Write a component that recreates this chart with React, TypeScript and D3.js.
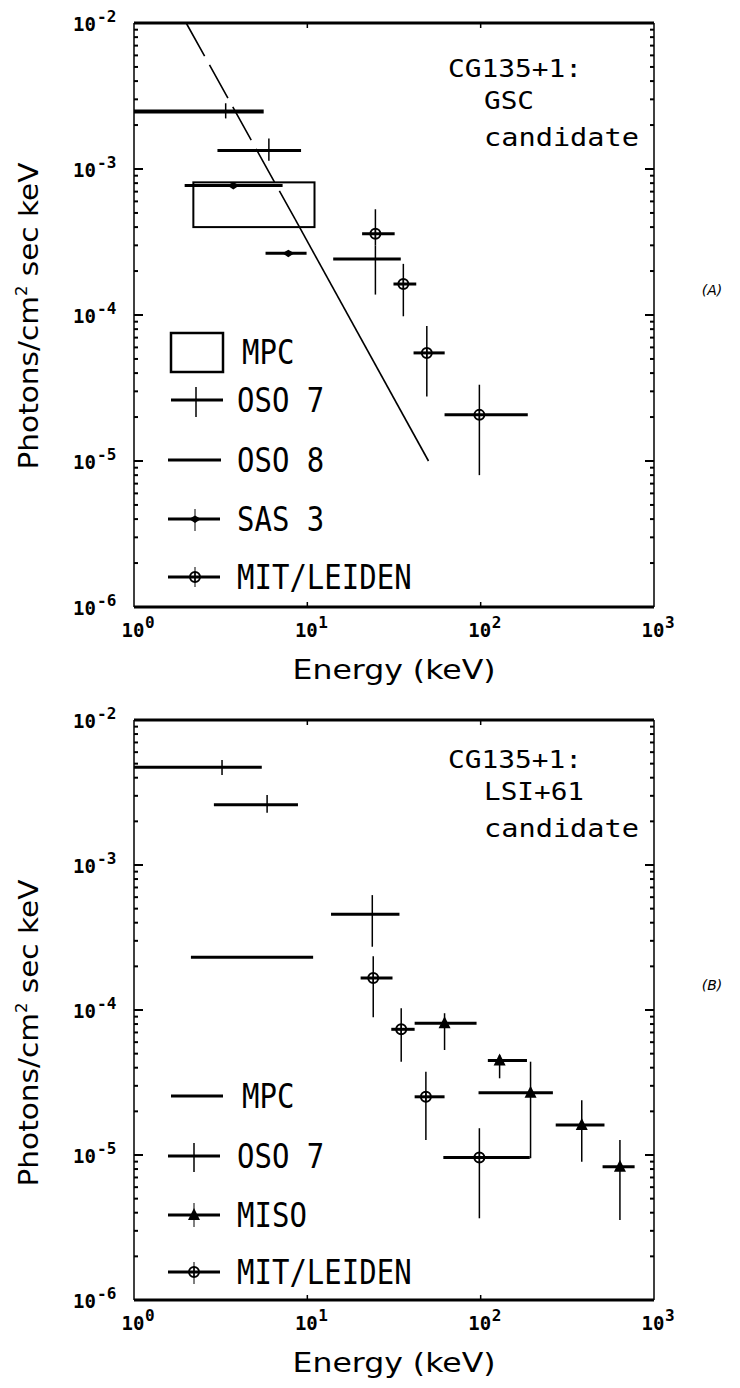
import React from "react";
import * as d3 from "d3";

// ---------- axes ----------
const X_DOMAIN: [number, number] = [1, 1000];
const Y_DOMAIN: [number, number] = [1e-6, 1e-2];
const X_TICKS = [1, 10, 100, 1000];
const X_TICK_EXP = ["0", "1", "2", "3"];
const Y_TICKS = [1e-2, 1e-3, 1e-4, 1e-5, 1e-6];
const Y_TICK_EXP = ["-2", "-3", "-4", "-5", "-6"];

// ---------- panel A (GSC candidate) ----------
// error bars: [eLo, eHi, eMid, flux, fluxLo, fluxHi]
const A_OSO8 = [[1.0, 5.6, 3.38, 2.48e-3, 2.22e-3, 2.82e-3]];
const A_OSO7 = [
  [3.03, 9.2, 6.0, 1.34e-3, 1.14e-3, 1.62e-3],
  [14.1, 34.6, 24.7, 2.42e-4, 1.38e-4, 3.0e-4],
];
const A_SAS3 = [
  [1.96, 7.2, 3.74, 7.7e-4, 7.7e-4, 7.7e-4],
  [5.74, 9.9, 7.77, 2.65e-4, 2.65e-4, 2.65e-4],
];
const A_MIT = [
  [20.7, 31.9, 24.7, 3.6e-4, 3.0e-4, 5.3e-4],
  [31.4, 42.5, 35.8, 1.63e-4, 9.8e-5, 2.24e-4],
  [41, 62, 48.9, 5.5e-5, 2.77e-5, 8.4e-5],
  [61.9, 187, 98.3, 2.07e-5, 8.0e-6, 3.33e-5],
];
// MPC box: [eLo, eHi, fluxLo, fluxHi]
const A_MPC_BOX = [2.2, 11, 4.0e-4, 8.1e-4];
// power-law model: dashed part then solid part, [energy, flux]
const A_POWER_DASHED = [[2, 1e-2], [8.5, 4.53e-4]];
const A_POWER_SOLID = [[8.5, 4.53e-4], [50, 1e-5]];
const A_TITLE = ["CG135+1:", "GSC", "candidate"];
const A_LEGEND = ["MPC", "OSO 7", "OSO 8", "SAS 3", "MIT/LEIDEN"];

// ---------- panel B (LSI+61 candidate) ----------
const B_MPC = [[2.13, 10.8, 5.0, 2.31e-4, 2.31e-4, 2.31e-4]];
const B_OSO7 = [
  [1.0, 5.46, 3.22, 4.72e-3, 4.18e-3, 5.3e-3],
  [2.89, 8.83, 5.86, 2.6e-3, 2.29e-3, 3.04e-3],
  [13.7, 34.0, 23.7, 4.57e-4, 2.73e-4, 6.2e-4],
];
const B_MISO = [
  [41.6, 94.7, 61.9, 8.1e-5, 5.3e-5, 9.5e-5],
  [110, 185, 128.6, 4.48e-5, 3.38e-5, 4.9e-5],
  [97.2, 261, 194, 2.69e-5, 9.5e-6, 4.4e-5],
  [271, 518, 383, 1.61e-5, 9.0e-6, 2.39e-5],
  [505, 773, 636, 8.3e-6, 3.56e-6, 1.27e-5],
];
const B_MIT = [
  [20.3, 31, 24, 1.66e-4, 8.9e-5, 2.35e-4],
  [30.5, 41.6, 34.8, 7.36e-5, 4.4e-5, 1.03e-4],
  [41.6, 61.9, 48.3, 2.52e-5, 1.27e-5, 3.75e-5],
  [60.9, 192, 98.3, 9.6e-6, 3.66e-6, 1.53e-5],
];
const B_TITLE = ["CG135+1:", "LSI+61", "candidate"];
const B_LEGEND = ["MPC", "OSO 7", "MISO", "MIT/LEIDEN"];

const Y_TITLE = "Photons/cm";
const Y_TITLE_REST = " sec keV";
const X_TITLE = "Energy  (keV)";

const MONO = "'DejaVu Sans Mono', 'Liberation Mono', monospace";
const SANS = "'DejaVu Sans', 'Liberation Sans', sans-serif";

type Scale = d3.ScaleLogarithmic<number, number>;

function Marker({ kind, cx, cy }: { kind: string; cx: number; cy: number }) {
  if (kind === "diamond")
    return <path d={`M${cx - 6},${cy} L${cx},${cy - 3.5} L${cx + 6},${cy} L${cx},${cy + 4} Z`} fill="#000" />;
  if (kind === "circle")
    return (
      <g>
        <circle cx={cx} cy={cy} r={5} fill="none" stroke="#000" strokeWidth={2} />
        <line x1={cx} x2={cx} y1={cy - 5} y2={cy + 5} stroke="#000" strokeWidth={1.5} />
      </g>
    );
  if (kind === "triangle")
    return <path d={`M${cx - 6},${cy + 5} L${cx + 6},${cy + 5} L${cx},${cy - 7} Z`} fill="#000" />;
  return null;
}

function Bars({ data, x, y, marker, hw = 3 }: { data: number[][]; x: Scale; y: Scale; marker?: string; hw?: number }) {
  return (
    <g>
      {data.map((d, i) => {
        const [lo, hi, mid, f, flo, fhi] = d;
        return (
          <g key={i}>
            <line x1={x(lo)} x2={x(hi)} y1={y(f)} y2={y(f)} stroke="#000" strokeWidth={hw} />
            {flo !== fhi && (
              <line x1={x(mid)} x2={x(mid)} y1={y(flo)} y2={y(fhi)} stroke="#000" strokeWidth={1.5} />
            )}
            {marker && <Marker kind={marker} cx={x(mid)} cy={y(f)} />}
          </g>
        );
      })}
    </g>
  );
}

function Frame({ x, y, left, right, top, bottom, label, labelY }: any) {
  const minor: number[] = [];
  for (let e = -6; e < -2; e++) for (let m = 2; m <= 9; m++) minor.push(m * Math.pow(10, e));
  return (
    <g>
      {/* frame */}
      <line x1={left} x2={right} y1={top} y2={top} stroke="#000" strokeWidth={3} />
      <line x1={left} x2={right} y1={bottom} y2={bottom} stroke="#000" strokeWidth={3} />
      <line x1={left} x2={left} y1={top} y2={bottom} stroke="#000" strokeWidth={1.5} />
      <line x1={right} x2={right} y1={top} y2={bottom} stroke="#000" strokeWidth={1.5} />
      {minor.map((v, i) => (
        <g key={i}>
          <line x1={left} x2={left + 4} y1={y(v)} y2={y(v)} stroke="#000" strokeWidth={2} />
          <line x1={right} x2={right - 4} y1={y(v)} y2={y(v)} stroke="#000" strokeWidth={2} />
        </g>
      ))}
      {Y_TICKS.map((v, i) => (
        <g key={i}>
          <line x1={left} x2={left + 9} y1={y(v)} y2={y(v)} stroke="#000" strokeWidth={2} />
          <line x1={right} x2={right - 9} y1={y(v)} y2={y(v)} stroke="#000" strokeWidth={2} />
          <text x={96} y={y(v) + 8} fontFamily={MONO} fontWeight="bold" fontSize={19} textAnchor="end">
            10
          </text>
          <text x={97} y={y(v) - 1} fontFamily={MONO} fontWeight="bold" fontSize={16}>
            {Y_TICK_EXP[i]}
          </text>
        </g>
      ))}
      {X_TICKS.map((v, i) => (
        <g key={i}>
          {i > 0 && i < 3 && (
            <>
              <line x1={x(v)} x2={x(v)} y1={top} y2={top + 5} stroke="#000" strokeWidth={1.5} />
              <line x1={x(v)} x2={x(v)} y1={bottom} y2={bottom - 5} stroke="#000" strokeWidth={1.5} />
            </>
          )}
          <text x={x(v) - 1} y={bottom + 30} fontFamily={MONO} fontWeight="bold" fontSize={19} textAnchor="middle">
            10
          </text>
          <text x={x(v) + 11} y={bottom + 21} fontFamily={MONO} fontWeight="bold" fontSize={16}>
            {X_TICK_EXP[i]}
          </text>
        </g>
      ))}
      {/* x title */}
      <text x={(left + right) / 2} y={bottom + 72} fontFamily={SANS} fontSize={26} textAnchor="middle"
        textLength={203} lengthAdjust="spacingAndGlyphs">
        {X_TITLE}
      </text>
      {/* y title */}
      <text transform={`translate(38,${labelY}) rotate(-90)`} fontFamily={SANS} fontSize={27} textAnchor="middle"
        textLength={307} lengthAdjust="spacingAndGlyphs">
        {Y_TITLE}
        <tspan dy={-11} fontSize={15}>2</tspan>
        <tspan dy={11}>{Y_TITLE_REST}</tspan>
      </text>
      <text x={712} y={(top + bottom) / 2 - 20} fontFamily={SANS} fontStyle="italic" fontSize={14} textAnchor="middle">
        {label}
      </text>
    </g>
  );
}

function Title({ lines, top }: { lines: string[]; top: number }) {
  const xs = [448, 484, 484];
  const widths = [134, 50 * lines[1].length / 3, 155];
  const ys = [top + 54, top + 86, top + 123];
  return (
    <g>
      {lines.map((t, i) => (
        <text key={i} x={xs[i]} y={ys[i]} fontFamily={MONO} fontSize={25}
          textLength={widths[i]} lengthAdjust="spacingAndGlyphs">
          {t}
        </text>
      ))}
    </g>
  );
}

function LegendText({ x, y, t }: { x: number; y: number; t: string }) {
  return (
    <text transform={`translate(${x},${y}) scale(1,1.15)`} fontFamily={MONO} fontSize={29} dominantBaseline="central">
      {t}
    </text>
  );
}

export default function App() {
  const left = 134;
  const right = 654;
  const aTop = 23, aBot = 607;
  const bTop = 720, bBot = 1300;
  const x = d3.scaleLog().domain(X_DOMAIN).range([left, right]);
  const yA = d3.scaleLog().domain(Y_DOMAIN).range([aBot, aTop]);
  const yB = d3.scaleLog().domain(Y_DOMAIN).range([bBot, bTop]);
  const lineA = d3.line<number[]>().x((d) => x(d[0])).y((d) => yA(d[1]));

  const lx0 = 171, lx1 = 223, lmid = 196;
  const legA = [352, 400, 460, 519, 577];
  const legB = [1096, 1156, 1215, 1272];

  return (
    <svg width={740} height={1388} style={{ position: "absolute", left: 0, top: 0, background: "#fff" }}>
      <rect width={740} height={1388} fill="#fff" />
      {/* ---------- panel A ---------- */}
      <Frame x={x} y={yA} left={left} right={right} top={aTop} bottom={aBot} label="(A)" labelY={316} />
      <path d={lineA(A_POWER_DASHED) || ""} stroke="#000" strokeWidth={1.6} fill="none" strokeDasharray="38,10" />
      <path d={lineA(A_POWER_SOLID) || ""} stroke="#000" strokeWidth={1.6} fill="none" />
      <rect
        x={x(A_MPC_BOX[0])}
        y={yA(A_MPC_BOX[3])}
        width={x(A_MPC_BOX[1]) - x(A_MPC_BOX[0])}
        height={yA(A_MPC_BOX[2]) - yA(A_MPC_BOX[3])}
        fill="none"
        stroke="#000"
        strokeWidth={2}
      />
      <Bars data={A_OSO8} x={x} y={yA} hw={4} />
      <Bars data={A_OSO7} x={x} y={yA} hw={3} />
      <Bars data={A_SAS3} x={x} y={yA} hw={3} marker="diamond" />
      <Bars data={A_MIT} x={x} y={yA} hw={3} marker="circle" />
      <Title lines={A_TITLE} top={aTop} />
      {/* legend A */}
      <rect x={lx0} y={legA[0] - 19} width={lx1 - lx0} height={39} fill="none" stroke="#000" strokeWidth={2.5} />
      <LegendText x={242} y={legA[0]} t={A_LEGEND[0]} />
      <line x1={lx0} x2={lx1} y1={legA[1]} y2={legA[1]} stroke="#000" strokeWidth={3} />
      <line x1={lmid} x2={lmid} y1={legA[1] - 13} y2={legA[1] + 17} stroke="#000" strokeWidth={1.5} />
      <LegendText x={237} y={legA[1]} t={A_LEGEND[1]} />
      <line x1={lx0 - 3} x2={lx1 - 2} y1={legA[2]} y2={legA[2]} stroke="#000" strokeWidth={3} />
      <LegendText x={237} y={legA[2]} t={A_LEGEND[2]} />
      <line x1={lx0 - 3} x2={lx1 - 3} y1={legA[3]} y2={legA[3]} stroke="#000" strokeWidth={3} />
      <line x1={lmid - 1} x2={lmid - 1} y1={legA[3] - 10} y2={legA[3] + 12} stroke="#000" strokeWidth={1} />
      <Marker kind="diamond" cx={lmid - 1} cy={legA[3]} />
      <LegendText x={237} y={legA[3]} t={A_LEGEND[3]} />
      <line x1={lx0 - 3} x2={lx1 - 3} y1={legA[4]} y2={legA[4]} stroke="#000" strokeWidth={3} />
      <line x1={lmid - 1} x2={lmid - 1} y1={legA[4] - 10} y2={legA[4] + 10} stroke="#000" strokeWidth={1} />
      <Marker kind="circle" cx={lmid - 1} cy={legA[4]} />
      <LegendText x={237} y={legA[4]} t={A_LEGEND[4]} />

      {/* ---------- panel B ---------- */}
      <Frame x={x} y={yB} left={left} right={right} top={bTop} bottom={bBot} label="(B)" labelY={1033} />
      <Bars data={B_MPC} x={x} y={yB} hw={3} />
      <Bars data={B_OSO7} x={x} y={yB} hw={3} />
      <Bars data={B_MISO} x={x} y={yB} hw={3} marker="triangle" />
      <Bars data={B_MIT} x={x} y={yB} hw={3} marker="circle" />
      <Title lines={B_TITLE} top={bTop - 6} />
      {/* legend B */}
      <line x1={lx0} x2={lx1} y1={legB[0]} y2={legB[0]} stroke="#000" strokeWidth={3} />
      <LegendText x={242} y={legB[0]} t={B_LEGEND[0]} />
      <line x1={lx0 - 3} x2={lx1 - 3} y1={legB[1]} y2={legB[1]} stroke="#000" strokeWidth={3} />
      <line x1={lmid - 2} x2={lmid - 2} y1={legB[1] - 13} y2={legB[1] + 16} stroke="#000" strokeWidth={1.5} />
      <LegendText x={237} y={legB[1]} t={B_LEGEND[1]} />
      <line x1={lx0 - 3} x2={lx1 - 3} y1={legB[2]} y2={legB[2]} stroke="#000" strokeWidth={3} />
      <line x1={lmid - 2} x2={lmid - 2} y1={legB[2] - 12} y2={legB[2] + 12} stroke="#000" strokeWidth={1} />
      <Marker kind="triangle" cx={lmid - 2} cy={legB[2]} />
      <LegendText x={237} y={legB[2]} t={B_LEGEND[2]} />
      <line x1={lx0 - 3} x2={lx1 - 3} y1={legB[3]} y2={legB[3]} stroke="#000" strokeWidth={3} />
      <line x1={lmid - 2} x2={lmid - 2} y1={legB[3] - 10} y2={legB[3] + 12} stroke="#000" strokeWidth={1} />
      <Marker kind="circle" cx={lmid - 2} cy={legB[3]} />
      <LegendText x={237} y={legB[3]} t={B_LEGEND[3]} />
    </svg>
  );
}
